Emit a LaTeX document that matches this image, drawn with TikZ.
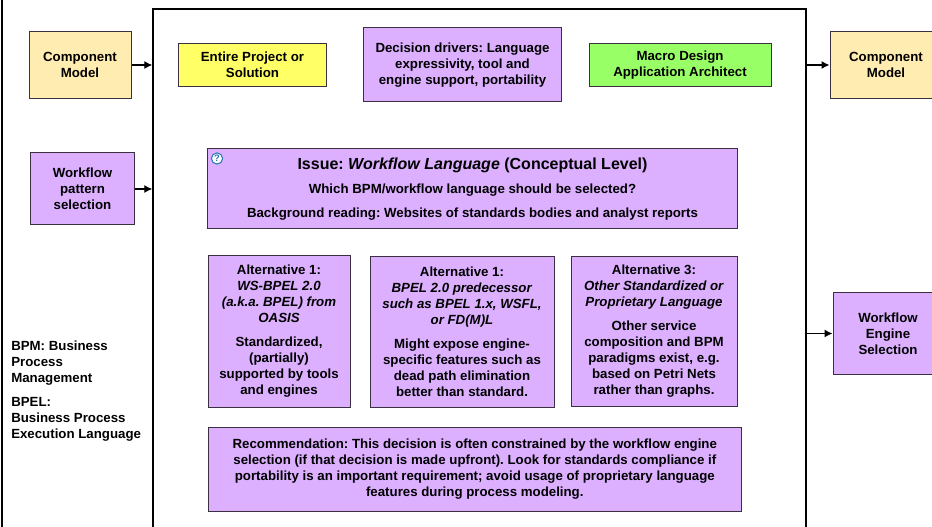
\documentclass[tikz,border=0pt]{standalone}
\usepackage{fontspec}
\setmainfont{Liberation Sans}
\usetikzlibrary{arrows.meta}
\definecolor{boxpurple}{HTML}{DCAFFF}
\definecolor{boxcream}{HTML}{FFECB0}
\definecolor{boxyellow}{HTML}{FFFF66}
\definecolor{boxgreen}{HTML}{99FF66}
\definecolor{boxedge}{HTML}{3A3040}
\definecolor{helpblue}{HTML}{2A78B8}
\tikzset{
	box/.style={draw=boxedge, line width=0.75pt, rectangle, inner sep=0pt, align=center, font=\fontsize{9.95}{12}\selectfont\bfseries\frenchspacing},
	purplebox/.style={box, fill=boxpurple},
	creambox/.style={box, fill=boxcream},
	yellowbox/.style={box, fill=boxyellow},
	greenbox/.style={box, fill=boxgreen},
	flow/.style={-{Latex[length=6pt,width=6pt]}, line width=0.9pt, black},
}
\newcommand{\para}{\\[6pt]}
\begin{document}
\begin{tikzpicture}[x=0.75pt, y=-0.75pt]
	\useasboundingbox (0,0) rectangle (932,527);
	\clip (0,0) rectangle (932,527);
	\fill [white] (0,0) rectangle (932,527);
	\draw [line width=1.7pt, black] (2,-5) -- (2,535);
	\node [draw=black, line width=1pt, rectangle, minimum width=489.7pt, minimum height=420pt, anchor=north west] (frame) at (152.3,8.5) {};
	\node [creambox, minimum width=76.5pt, minimum height=50.2pt] (cmleft) at (80,65) {Component\\Model};
	\node [purplebox, minimum width=78pt, minimum height=54pt] (pattern) at (82.5,189) {Workflow\\pattern\\selection};
	\node [yellowbox, minimum width=111.7pt, minimum height=32.2pt] (project) at (252.5,65) {Entire Project or\\Solution};
	\node [purplebox, minimum width=149.2pt, minimum height=55.5pt] (drivers) at (462.5,65) {Decision drivers: Language\\expressivity, tool and\\engine support, portability};
	\node [greenbox, minimum width=136.5pt, minimum height=32.2pt] (macro) at (680,65) {Macro Design\\Application Architect};
	\node [creambox, minimum width=84pt, minimum height=50.2pt] (cmright) at (886,65) {Component\\Model};
	\node [purplebox, minimum width=398.2pt, minimum height=60pt] (issue) at (472.5,189) {{\fontsize{12}{12}\selectfont Issue: \textit{Workflow Language} (Conceptual Level)}\para Which BPM/workflow language should be selected?\para Background reading: Websites of standards bodies and analyst reports};
	\node [draw=helpblue, fill=white, line width=0.8pt, circle, inner sep=0pt, minimum size=8.4pt, font=\fontsize{7}{7}\selectfont\bfseries, text=helpblue] (help) at (217,158.5) {?};
	\node [purplebox, minimum width=106.5pt, minimum height=114pt] (altone) at (279,331.5) {Alternative 1:\\\textit{WS-BPEL 2.0}\\\textit{(a.k.a. BPEL) from}\\\textit{OASIS}\para Standardized,\\(partially)\\supported by tools\\and engines};
	\node [purplebox, minimum width=138pt, minimum height=113.2pt] (alttwo) at (462,332) {Alternative 1:\\\textit{BPEL 2.0 predecessor}\\\textit{such as BPEL 1.x, WSFL,}\\\textit{or FD(M)L}\para Might expose engine-\\specific features such as\\dead path elimination\\better than standard.};
	\node [purplebox, minimum width=124.5pt, minimum height=113.2pt] (altthree) at (654,331.5) {Alternative 3:\\\textit{Other Standardized or}\\\textit{Proprietary Language}\para Other service\\composition and BPM\\paradigms exist, e.g.\\based on Petri Nets\\rather than graphs.};
	\node [purplebox, minimum width=400.2pt, minimum height=63pt] (recommend) at (474.8,469) {Recommendation: This decision is often constrained by the workflow engine\\selection (if that decision is made upfront). Look for standards compliance if\\portability is an important requirement; avoid usage of proprietary language\\features during process modeling.};
	\node [purplebox, minimum width=82.5pt, minimum height=62.2pt] (engine) at (888,333.5) {Workflow\\Engine\\Selection};
	\node [align=left, anchor=north west, inner sep=0pt, font=\fontsize{9.95}{12}\selectfont\bfseries\frenchspacing] (notes) at (11,341) {BPM: Business\\Process\\Management\para BPEL:\\Business Process\\Execution Language};
	\draw [flow] (cmleft.east) -- (cmleft.east -| frame.west);
	\draw [flow] (pattern.east) -- (pattern.east -| frame.west);
	\draw [flow] (frame.east |- cmright.west) -- (cmright.west);
	\draw [flow] (frame.east |- engine.west) -- (engine.west);
\end{tikzpicture}
\end{document}
